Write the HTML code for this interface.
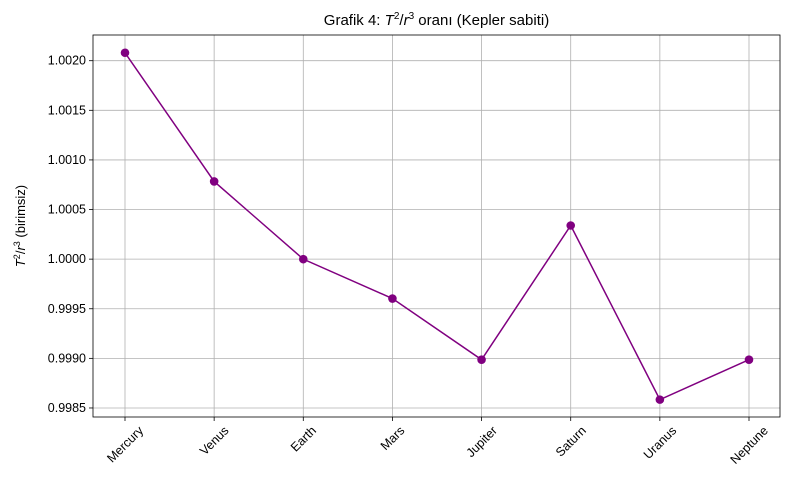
<!DOCTYPE html>
<html><head><meta charset="utf-8"><style>
html,body{margin:0;padding:0;background:#fff;}
svg{display:block;font-family:"Liberation Sans","DejaVu Sans",sans-serif;}
</style></head><body>
<svg id="chart" width="790" height="489" viewBox="0 0 790 489" xmlns="http://www.w3.org/2000/svg"></svg>
<script>
const categories=["Mercury","Venus","Earth","Mars","Jupiter","Saturn","Uranus","Neptune"];
const values=[1.00208,1.000783,1.0000,0.999603,0.998987,1.000339,0.998584,0.998987];
const yTicks=[0.9985,0.9990,0.9995,1.0000,1.0005,1.0010,1.0015,1.0020];
const yTickLabels=["0.9985","0.9990","0.9995","1.0000","1.0005","1.0010","1.0015","1.0020"];

const L=93,R=780,T=35,B=417;
const yMin=0.998409,yMax=1.002259;
const x=i=>125+i*(749-125)/(categories.length-1);
const y=v=>B-(v-yMin)/(yMax-yMin)*(B-T);
const svg=document.getElementById('chart');
const NS="http://www.w3.org/2000/svg";
function mk(tag,attrs,parent){const e=document.createElementNS(NS,tag);for(const k in attrs)e.setAttribute(k,attrs[k]);(parent||svg).appendChild(e);return e;}

const grid=mk('g',{});


categories.forEach((c,i)=>{mk('line',{x1:x(i),x2:x(i),y1:T,y2:B,stroke:'#b0b0b0','stroke-width':0.8},grid);});
yTicks.forEach(v=>{mk('line',{x1:L,x2:R,y1:y(v),y2:y(v),stroke:'#b0b0b0','stroke-width':0.8},grid);});

const yax=mk('g',{});


yTicks.forEach((v,i)=>{
  mk('line',{x1:L-4,x2:L,y1:y(v),y2:y(v),stroke:'#000','stroke-width':0.8},yax);
  const t=mk('text',{x:L-7,y:y(v)+4,'text-anchor':'end','font-size':12.5,fill:'#000'},yax);
  t.textContent=yTickLabels[i];
  
  
});
const xax=mk('g',{});


categories.forEach((c,i)=>{
  mk('line',{x1:x(i),x2:x(i),y1:B,y2:B+4,stroke:'#000','stroke-width':0.8},xax);
  const t=mk('text',{x:x(i),y:0,'text-anchor':'middle','font-size':12.5,fill:'#000'},xax);
  t.textContent=c;
  
  
  const w=t.getComputedTextLength();
  const h=(w+12)*0.7071;
  const cy=B+7+h/2;
  t.setAttribute('y',cy+4.3);
  t.setAttribute('transform',`rotate(-45 ${x(i)} ${cy})`);
});

const line=mk('polyline',{points:values.map((v,i)=>x(i)+','+y(v)).join(' '),fill:'none',stroke:'#800080','stroke-width':1.5});


values.forEach((v,i)=>{
  const c=mk('circle',{cx:x(i),cy:y(v),r:4.3,fill:'#800080'});
  
  
});

const frame=mk('rect',{x:L,y:T,width:R-L,height:B-T,fill:'none',stroke:'#000','stroke-width':0.8});


</script>
<div style="position:absolute;left:0;top:0;width:790px;height:489px;pointer-events:none;font-family:'Liberation Sans','DejaVu Sans',sans-serif;">
  <div style="position:absolute;left:0;width:873px;top:11px;text-align:center;font-size:15px;">Grafik 4: <i>T</i><sup style="font-size:10px">2</sup>/<i>r</i><sup style="font-size:10px">3</sup> oranı (Kepler sabiti)</div>
  <div style="position:absolute;left:20px;top:226px;transform:translate(-50%,-50%) rotate(-90deg);white-space:nowrap;font-size:13px;"><i>T</i><sup style="font-size:9px">2</sup>/<i>r</i><sup style="font-size:9px">3</sup> (birimsiz)</div>
</div>
</body></html>
